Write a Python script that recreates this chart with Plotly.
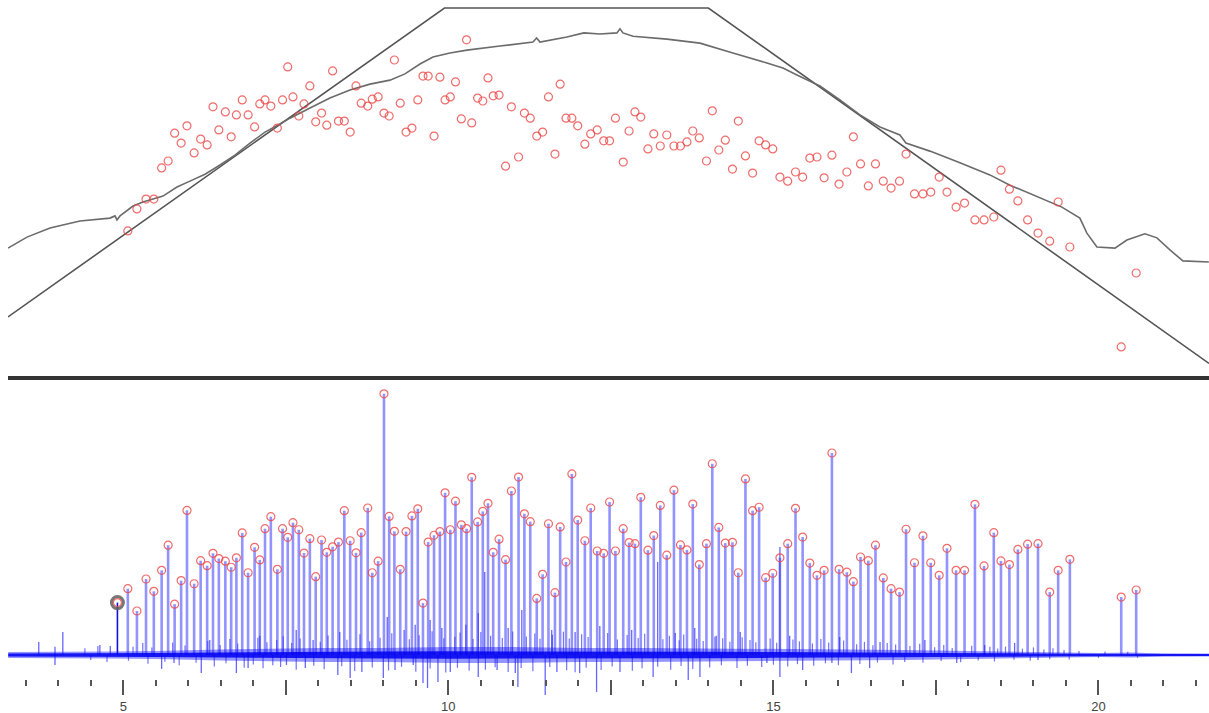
import plotly.graph_objects as go

X_RANGE = [3.227, 21.70]

# ---- bottom panel: detected peaks (position, amplitude) ----
peak_x = [4.91,5.07,5.21,5.35,5.47,5.59,5.69,5.79,5.89,5.98,
          6.09,6.19,6.29,6.38,6.47,6.57,6.66,6.74,6.83,6.92,
          7.02,7.10,7.18,7.27,7.37,7.45,7.53,7.61,7.70,7.78,
          7.87,7.96,8.05,8.13,8.22,8.31,8.40,8.49,8.58,8.66,
          8.76,8.83,8.92,9.01,9.09,9.17,9.26,9.35,9.44,9.53,
          9.61,9.69,9.78,9.87,9.95,10.03,10.11,10.20,10.28,10.36,
          10.45,10.53,10.61,10.69,10.78,10.88,10.97,11.08,11.17,11.26,
          11.36,11.45,11.54,11.64,11.72,11.81,11.90,11.99,12.10,12.19,
          12.29,12.39,12.48,12.57,12.69,12.78,12.87,12.96,13.07,13.16,
          13.26,13.36,13.47,13.57,13.67,13.76,13.86,13.97,14.06,14.16,
          14.26,14.37,14.46,14.57,14.68,14.78,14.88,14.99,15.10,15.22,
          15.34,15.45,15.56,15.67,15.78,15.90,16.01,16.13,16.23,16.34,
          16.46,16.57,16.69,16.81,16.94,17.04,17.17,17.30,17.42,17.55,
          17.67,17.81,17.94,18.10,18.24,18.39,18.50,18.63,18.76,18.91,
          19.07,19.25,19.38,19.56,20.35,20.58]

peak_amp = [20.0,25.3,16.8,29.0,24.3,32.3,41.9,19.4,28.4,55.2,
            27.2,36.0,34.1,38.8,36.8,35.8,33.5,37.1,46.6,31.4,
            41.1,36.3,48.2,52.8,32.7,48.2,44.9,50.5,47.8,38.9,
            44.4,29.9,43.9,39.2,41.3,43.1,55.1,43.6,39.0,46.7,
            56.1,31.4,35.8,99.7,52.9,47.2,32.7,47.1,53.1,55.8,
            19.8,43.1,45.7,47.1,61.9,47.8,58.7,49.7,48.2,67.8,
            50.8,54.8,57.9,39.2,44.2,36.4,62.6,67.9,53.9,50.9,
            21.6,30.8,50.1,23.8,48.9,35.5,69.1,51.5,43.6,56.1,
            39.7,38.8,58.4,39.7,48.2,42.9,42.5,60.2,40.0,45.6,
            57.1,38.1,62.9,42.0,40.1,57.6,34.5,42.5,73.0,48.7,
            42.7,43.0,31.4,67.2,55.1,56.4,29.5,31.2,37.1,42.5,
            56.0,45.0,35.1,30.4,32.3,77.1,32.7,31.6,28.0,37.4,
            36.0,41.9,29.4,25.3,24.0,48.0,35.2,45.5,35.2,30.4,
            40.7,32.3,32.3,57.5,34.0,46.7,35.9,34.5,40.3,42.3,
            42.5,24.0,32.3,36.5,22.1,24.8]

# ---- top panel: per-peak score (first peak has none) ----
peak_score = [None,
              39.1,45.1,47.8,47.8,56.3,58.2,65.8,63.1,67.8,60.4,
              64.2,62.6,73.0,66.7,71.6,64.8,70.8,74.9,70.8,67.5,
              73.8,74.9,73.2,67.2,74.9,83.9,75.7,70.5,73.8,78.7,
              68.9,71.3,68.0,82.8,69.1,69.1,66.1,78.7,74.0,73.2,
              75.1,75.7,71.3,70.5,85.8,74.0,66.1,67.2,74.9,81.4,
              81.4,65.0,81.1,74.9,75.7,79.8,69.7,91.3,68.6,75.4,
              74.6,80.9,76.0,76.2,56.8,73.0,59.3,71.3,69.9,65.0,
              66.1,75.7,60.1,79.2,69.9,69.9,67.8,62.8,65.6,66.7,
              63.7,63.7,69.9,57.9,66.4,71.6,70.2,61.5,65.6,62.3,
              65.3,62.3,62.3,63.4,66.4,64.5,58.2,71.9,61.2,63.9,
              56.0,69.1,59.6,54.9,63.7,62.6,61.5,53.8,52.7,55.2,
              53.8,59.0,59.3,53.6,59.8,51.9,55.2,64.8,57.4,51.4,
              57.4,52.7,50.8,52.7,60.1,49.2,49.2,49.7,53.8,49.7,
              45.6,46.7,42.1,42.1,42.9,55.7,50.5,47.3,42.1,38.5,
              36.3,47.0,34.7,7.4,27.6]

# ---- top panel: trapezoid envelope ----
trap_x = [3.227, 9.94, 14.00, 21.70]
trap_y = [15.6, 100.0, 100.0, 2.9]

# ---- top panel: smoothed curve ----
curve_x = [3.227,3.519,3.873,4.334,4.796,4.873,4.903,4.950,5.150,5.303,
           5.611,5.826,6.026,6.257,6.488,6.718,6.949,7.180,7.410,7.564,
           7.872,8.179,8.487,8.795,9.102,9.333,9.564,9.764,10.025,10.286,
           10.794,11.302,11.358,11.409,11.824,12.086,12.332,12.593,12.640,12.686,
           12.840,13.362,13.870,14.131,14.377,14.900,15.146,15.362,15.716,16.023,
           16.331,16.639,16.946,17.038,17.407,17.869,18.330,18.638,19.100,19.437,
           19.714,19.822,19.976,20.253,20.437,20.714,20.899,21.099,21.299,21.698]
curve_y = [34.4,37.4,39.9,41.8,42.6,43.2,42.1,43.2,45.9,47.0,
           48.6,51.1,52.7,54.6,57.1,59.8,63.1,66.1,68.3,69.9,
           72.7,75.4,77.6,79.2,80.3,82.0,84.7,86.6,87.7,88.5,
           89.6,90.7,91.8,90.7,92.1,93.2,92.9,93.2,94.3,93.2,
           92.3,91.5,90.4,89.1,87.7,85.0,83.6,81.7,78.7,74.9,
           70.8,67.5,65.3,63.1,60.9,57.7,54.4,51.6,48.1,45.6,
           42.6,38.5,34.7,34.4,36.6,38.3,37.2,33.9,30.9,30.6]

# ---- bottom panel: noise envelope of the raw trace ----
noise_x = [3.23,4.0,4.8,5.5,6.0,6.5,7.0,8.0,9.0,10.0,11.0,12.0,13.0,
           14.0,15.0,16.0,17.0,17.5,18.0,18.5,19.0,19.6,20.0,20.5,21.0,21.7]
noise_hi = [1.15,1.15,1.34,1.53,1.9,2.1,2.3,2.7,2.7,3.05,3.05,2.7,2.7,
            2.5,2.3,2.3,1.9,1.7,1.5,1.34,1.15,0.95,0.76,0.95,0.57,0.57]
noise_lo = [-1.15,-1.15,-1.34,-1.53,-1.9,-2.1,-2.3,-2.7,-2.7,-3.05,-3.05,-2.7,-2.7,
            -2.5,-2.3,-2.3,-1.9,-1.7,-1.5,-1.34,-1.15,-0.95,-0.76,-0.95,-0.57,-0.57]
core_hi = [0.6,0.6,0.7,0.8,0.9,1.0,1.1,1.2,1.3,1.4,1.4,1.3,1.2,
           1.2,1.1,1.1,0.9,0.8,0.8,0.7,0.6,0.5,0.45,0.5,0.4,0.4]
core_lo = [-0.6,-0.6,-0.7,-0.8,-0.9,-1.0,-1.1,-1.2,-1.3,-1.4,-1.4,-1.3,-1.2,
           -1.2,-1.1,-1.1,-0.9,-0.8,-0.8,-0.7,-0.6,-0.5,-0.45,-0.5,-0.4,-0.4]

# ---- bottom panel: larger noise spikes of the raw trace ----
spike_x = [3.95,5.59,5.78,6.20,6.74,6.92,7.51,7.80,8.30,8.49,8.67,9.00,9.18,
           9.46,9.61,9.68,9.84,10.03,10.46,10.75,11.03,11.07,11.49,11.67,12.02,
           12.28,12.64,13.15,13.69,13.87,14.90,15.10,15.45,15.90,16.20,16.48,
           17.82,19.07,
           3.70,3.95,4.07,4.64,4.80,6.33,7.10,7.66,7.92,8.33,9.06,9.32,9.49,
           9.72,9.90,10.27,10.46,10.56,10.92,11.13,11.59,11.95,12.33,12.82,
           13.22,13.49,13.79,14.12,14.49,15.10,15.25,16.02,16.64,17.33,18.25,18.71]
spike_amp = [-3.8,-5.3,-3.1,-6.9,-6.9,-5.0,-3.8,-5.0,-7.6,-8.8,-6.5,-8.8,-5.7,
             -3.8,-10.7,-12.6,-10.3,-6.5,-8.4,-5.7,-6.9,-12.2,-15.3,-6.5,-6.9,
             -14.1,-6.5,-8.4,-9.5,-8.4,-3.1,-8.4,-5.7,-3.1,-6.9,-5.0,
             -3.1,-1.9,
             5.0,3.1,8.8,3.8,3.4,5.7,7.3,9.5,5.7,8.8,14.5,9.5,11.5,
             13.4,10.3,11.5,16.0,31.7,10.3,17.2,9.5,8.8,11.1,9.5,
             35.5,8.4,10.3,7.3,8.8,41.2,7.3,6.9,5.0,5.7,3.8,4.6]

# ---- bottom panel: small upward noise spikes ----
tex_up_x = [4.41,4.61,5.15,5.30,5.44,5.76,5.95,6.30,6.49,6.64,
            6.76,7.07,7.21,7.36,7.46,7.59,7.72,8.03,8.15,8.44,
            8.64,8.79,8.95,9.13,9.40,9.55,9.75,9.93,10.10,10.18,
            10.38,10.50,10.65,10.83,10.99,11.20,11.33,11.41,11.60,11.77,
            11.86,12.05,12.15,12.45,12.60,12.75,12.92,13.02,13.30,13.40,
            13.55,13.62,13.82,13.92,14.10,14.22,14.33,14.52,14.64,14.73,
            14.95,15.05,15.30,15.40,15.60,15.73,15.85,16.08,16.28,16.40,
            16.53,16.75,16.88,17.10,17.25,17.48,17.62,17.75,18.05,18.33,
            18.45,18.57,18.83,19.00,19.16,19.30,19.47,19.70,20.10,20.45]
tex_up_amp = [2.6,3.4,3.1,4.6,2.9,4.8,3.6,5.3,3.8,6.1,
              4.4,6.6,4.9,5.7,7.2,4.6,6.3,5.1,7.4,5.8,
              7.9,5.2,6.6,8.3,6.0,7.5,9.1,6.4,7.0,8.6,
              6.1,8.8,7.3,6.5,9.0,7.1,8.2,6.2,7.7,8.9,
              6.3,7.9,6.9,8.4,5.9,7.6,6.5,8.1,6.0,7.3,
              5.6,7.8,6.2,5.3,7.0,6.4,5.1,6.8,5.7,4.9,
              6.3,4.7,5.9,5.2,4.4,6.1,4.8,5.5,4.1,5.0,
              3.7,4.6,4.0,3.4,4.3,3.0,3.8,2.7,3.5,3.1,
              2.5,3.2,2.4,2.9,2.1,2.6,1.9,1.5,1.3,1.2]

# ---- bottom panel: small downward noise spikes ----
tex_dn_x = [4.50,4.75,5.08,5.38,5.64,5.86,6.12,6.40,6.58,6.86,
            7.00,7.15,7.30,7.42,7.66,7.93,8.09,8.36,8.56,8.83,
            9.08,9.28,9.50,9.72,9.96,10.14,10.32,10.57,10.72,10.92,
            11.12,11.30,11.56,11.82,11.95,12.12,12.35,12.52,12.83,12.98,
            13.22,13.42,13.58,13.76,14.02,14.20,14.44,14.60,14.82,15.00,
            15.22,15.37,15.62,15.80,16.00,16.33,16.60,16.84,17.02,17.30,
            17.58,17.88,18.15,18.40,18.70,18.95,19.25,19.55,20.00,20.60]
tex_dn_amp = [-1.9,-2.7,-2.2,-3.3,-2.6,-3.9,-3.0,-4.4,-3.2,-4.9,
              -3.6,-5.1,-3.9,-4.6,-5.6,-4.1,-5.4,-4.3,-6.1,-4.8,
              -5.9,-4.5,-6.4,-5.2,-6.7,-4.9,-6.0,-5.6,-4.7,-6.5,
              -5.0,-6.2,-4.6,-5.8,-6.6,-4.9,-5.7,-4.4,-6.0,-5.1,
              -4.5,-5.6,-4.2,-5.3,-4.8,-3.9,-5.0,-4.1,-4.6,-3.7,
              -4.4,-3.5,-4.1,-3.2,-3.9,-3.4,-2.9,-3.6,-2.7,-3.0,
              -2.3,-2.8,-2.1,-2.5,-1.8,-2.2,-1.6,-1.7,-1.1,-1.0]

# ---- x axis ticks ----
tick_vals = [2.5, 5, 7.5, 10, 12.5, 15, 17.5, 20]
tick_text = ["", "5", "", "10", "", "15", "", "20"]
minor_vals = [3.5, 4, 4.5, 5.5, 6, 6.5, 7, 8, 8.5, 9, 9.5, 10.5, 11, 11.5, 12,
              13, 13.5, 14, 14.5, 15.5, 16, 16.5, 17, 18, 18.5, 19, 19.5,
              20.5, 21, 21.5]

# ------------------------------------------------------------------
fig = go.Figure()

# top panel
fig.add_trace(go.Scatter(x=trap_x, y=trap_y, mode="lines",
                         line=dict(color="#555555", width=1.6),
                         xaxis="x", yaxis="y", hoverinfo="skip"))
fig.add_trace(go.Scatter(x=curve_x, y=curve_y, mode="lines",
                         line=dict(color="#6b6b6b", width=1.6),
                         xaxis="x", yaxis="y", hoverinfo="skip"))
fig.add_trace(go.Scatter(x=peak_x, y=peak_score, mode="markers",
                         marker=dict(symbol="circle-open", size=8,
                                     color="rgba(235,70,70,0.8)",
                                     line=dict(width=1.2)),
                         xaxis="x", yaxis="y"))

# bottom panel: noise bands
fig.add_trace(go.Scatter(x=noise_x, y=noise_hi, mode="lines",
                         line=dict(width=0, color="rgba(0,0,255,0)"),
                         xaxis="x3", yaxis="y2", hoverinfo="skip"))
fig.add_trace(go.Scatter(x=noise_x, y=noise_lo, mode="lines", fill="tonexty",
                         fillcolor="rgba(20,20,255,0.45)",
                         line=dict(width=0, color="rgba(0,0,255,0)"),
                         xaxis="x3", yaxis="y2", hoverinfo="skip"))
fig.add_trace(go.Scatter(x=noise_x, y=core_hi, mode="lines",
                         line=dict(width=0, color="rgba(0,0,255,0)"),
                         xaxis="x3", yaxis="y2", hoverinfo="skip"))
fig.add_trace(go.Scatter(x=noise_x, y=core_lo, mode="lines", fill="tonexty",
                         fillcolor="rgba(0,0,240,0.85)",
                         line=dict(width=0, color="rgba(0,0,255,0)"),
                         xaxis="x3", yaxis="y2", hoverinfo="skip"))


def segments(xs, amps):
    sx, sy = [], []
    for xv, av in zip(xs, amps):
        sx += [xv, xv, None]
        sy += [0, av, None]
    return sx, sy


# bottom panel: small noise texture
for xs, amps in ((tex_up_x, tex_up_amp), (tex_dn_x, tex_dn_amp)):
    sx, sy = segments(xs, amps)
    fig.add_trace(go.Scatter(x=sx, y=sy, mode="lines",
                             line=dict(color="rgba(0,0,255,0.55)", width=1.2),
                             xaxis="x2", yaxis="y2", hoverinfo="skip"))

# bottom panel: larger noise spikes
sx, sy = segments(spike_x, spike_amp)
fig.add_trace(go.Scatter(x=sx, y=sy, mode="lines",
                         line=dict(color="rgba(0,0,255,0.6)", width=1.3),
                         xaxis="x2", yaxis="y2", hoverinfo="skip"))

# bottom panel: peak stems
px_, py_ = segments(peak_x[1:], peak_amp[1:])
fig.add_trace(go.Scatter(x=px_, y=py_, mode="lines",
                         line=dict(color="rgba(40,40,255,0.5)", width=2.6),
                         xaxis="x2", yaxis="y2", hoverinfo="skip"))
# highlighted first peak
fig.add_trace(go.Scatter(x=[peak_x[0], peak_x[0]], y=[0, peak_amp[0]], mode="lines",
                         line=dict(color="#1010e0", width=1.6),
                         xaxis="x2", yaxis="y2", hoverinfo="skip"))
fig.add_trace(go.Scatter(x=[peak_x[0]], y=[peak_amp[0]], mode="markers",
                         marker=dict(symbol="circle-open", size=12,
                                     color="rgba(95,95,95,0.85)",
                                     line=dict(width=3)),
                         xaxis="x2", yaxis="y2"))
fig.add_trace(go.Scatter(x=peak_x, y=peak_amp, mode="markers",
                         marker=dict(symbol="circle-open", size=8,
                                     color="rgba(235,70,70,0.8)",
                                     line=dict(width=1.2)),
                         xaxis="x2", yaxis="y2"))

hidden = dict(visible=False, showgrid=False, zeroline=False)

fig.update_layout(
    width=1209, height=713,
    margin=dict(l=8, r=0, t=0, b=13),
    paper_bgcolor="white", plot_bgcolor="white",
    showlegend=False,
    font=dict(family="Liberation Sans, Arial, sans-serif", size=13, color="#444"),
    xaxis=dict(domain=[0, 1], range=X_RANGE, anchor="y", **hidden),
    yaxis=dict(domain=[0.4657, 1], range=[0, 102.19], anchor="x", **hidden),
    xaxis2=dict(domain=[0, 1], range=X_RANGE, anchor="y2", **hidden),
    yaxis2=dict(domain=[0, 0.4557], range=[-17.18, 104.58], anchor="x2", **hidden),
    xaxis3=dict(range=X_RANGE, overlaying="x2", anchor="free", position=0.03,
                side="bottom", showgrid=False, zeroline=False, showline=False,
                tickmode="array", tickvals=tick_vals, ticktext=tick_text,
                ticks="outside", ticklen=15, tickwidth=1.5, tickcolor="#555",
                tickfont=dict(size=13, color="#444"),
                minor=dict(tickmode="array", tickvals=minor_vals, ticks="outside",
                           ticklen=6, tickwidth=1.5, tickcolor="#555",
                           showgrid=False)),
    shapes=[dict(type="rect", xref="paper", yref="paper",
                 x0=0, x1=1, y0=0.4571, y1=0.4629,
                 fillcolor="#333333", line=dict(width=0))],
)

fig.write_html("out.html")
